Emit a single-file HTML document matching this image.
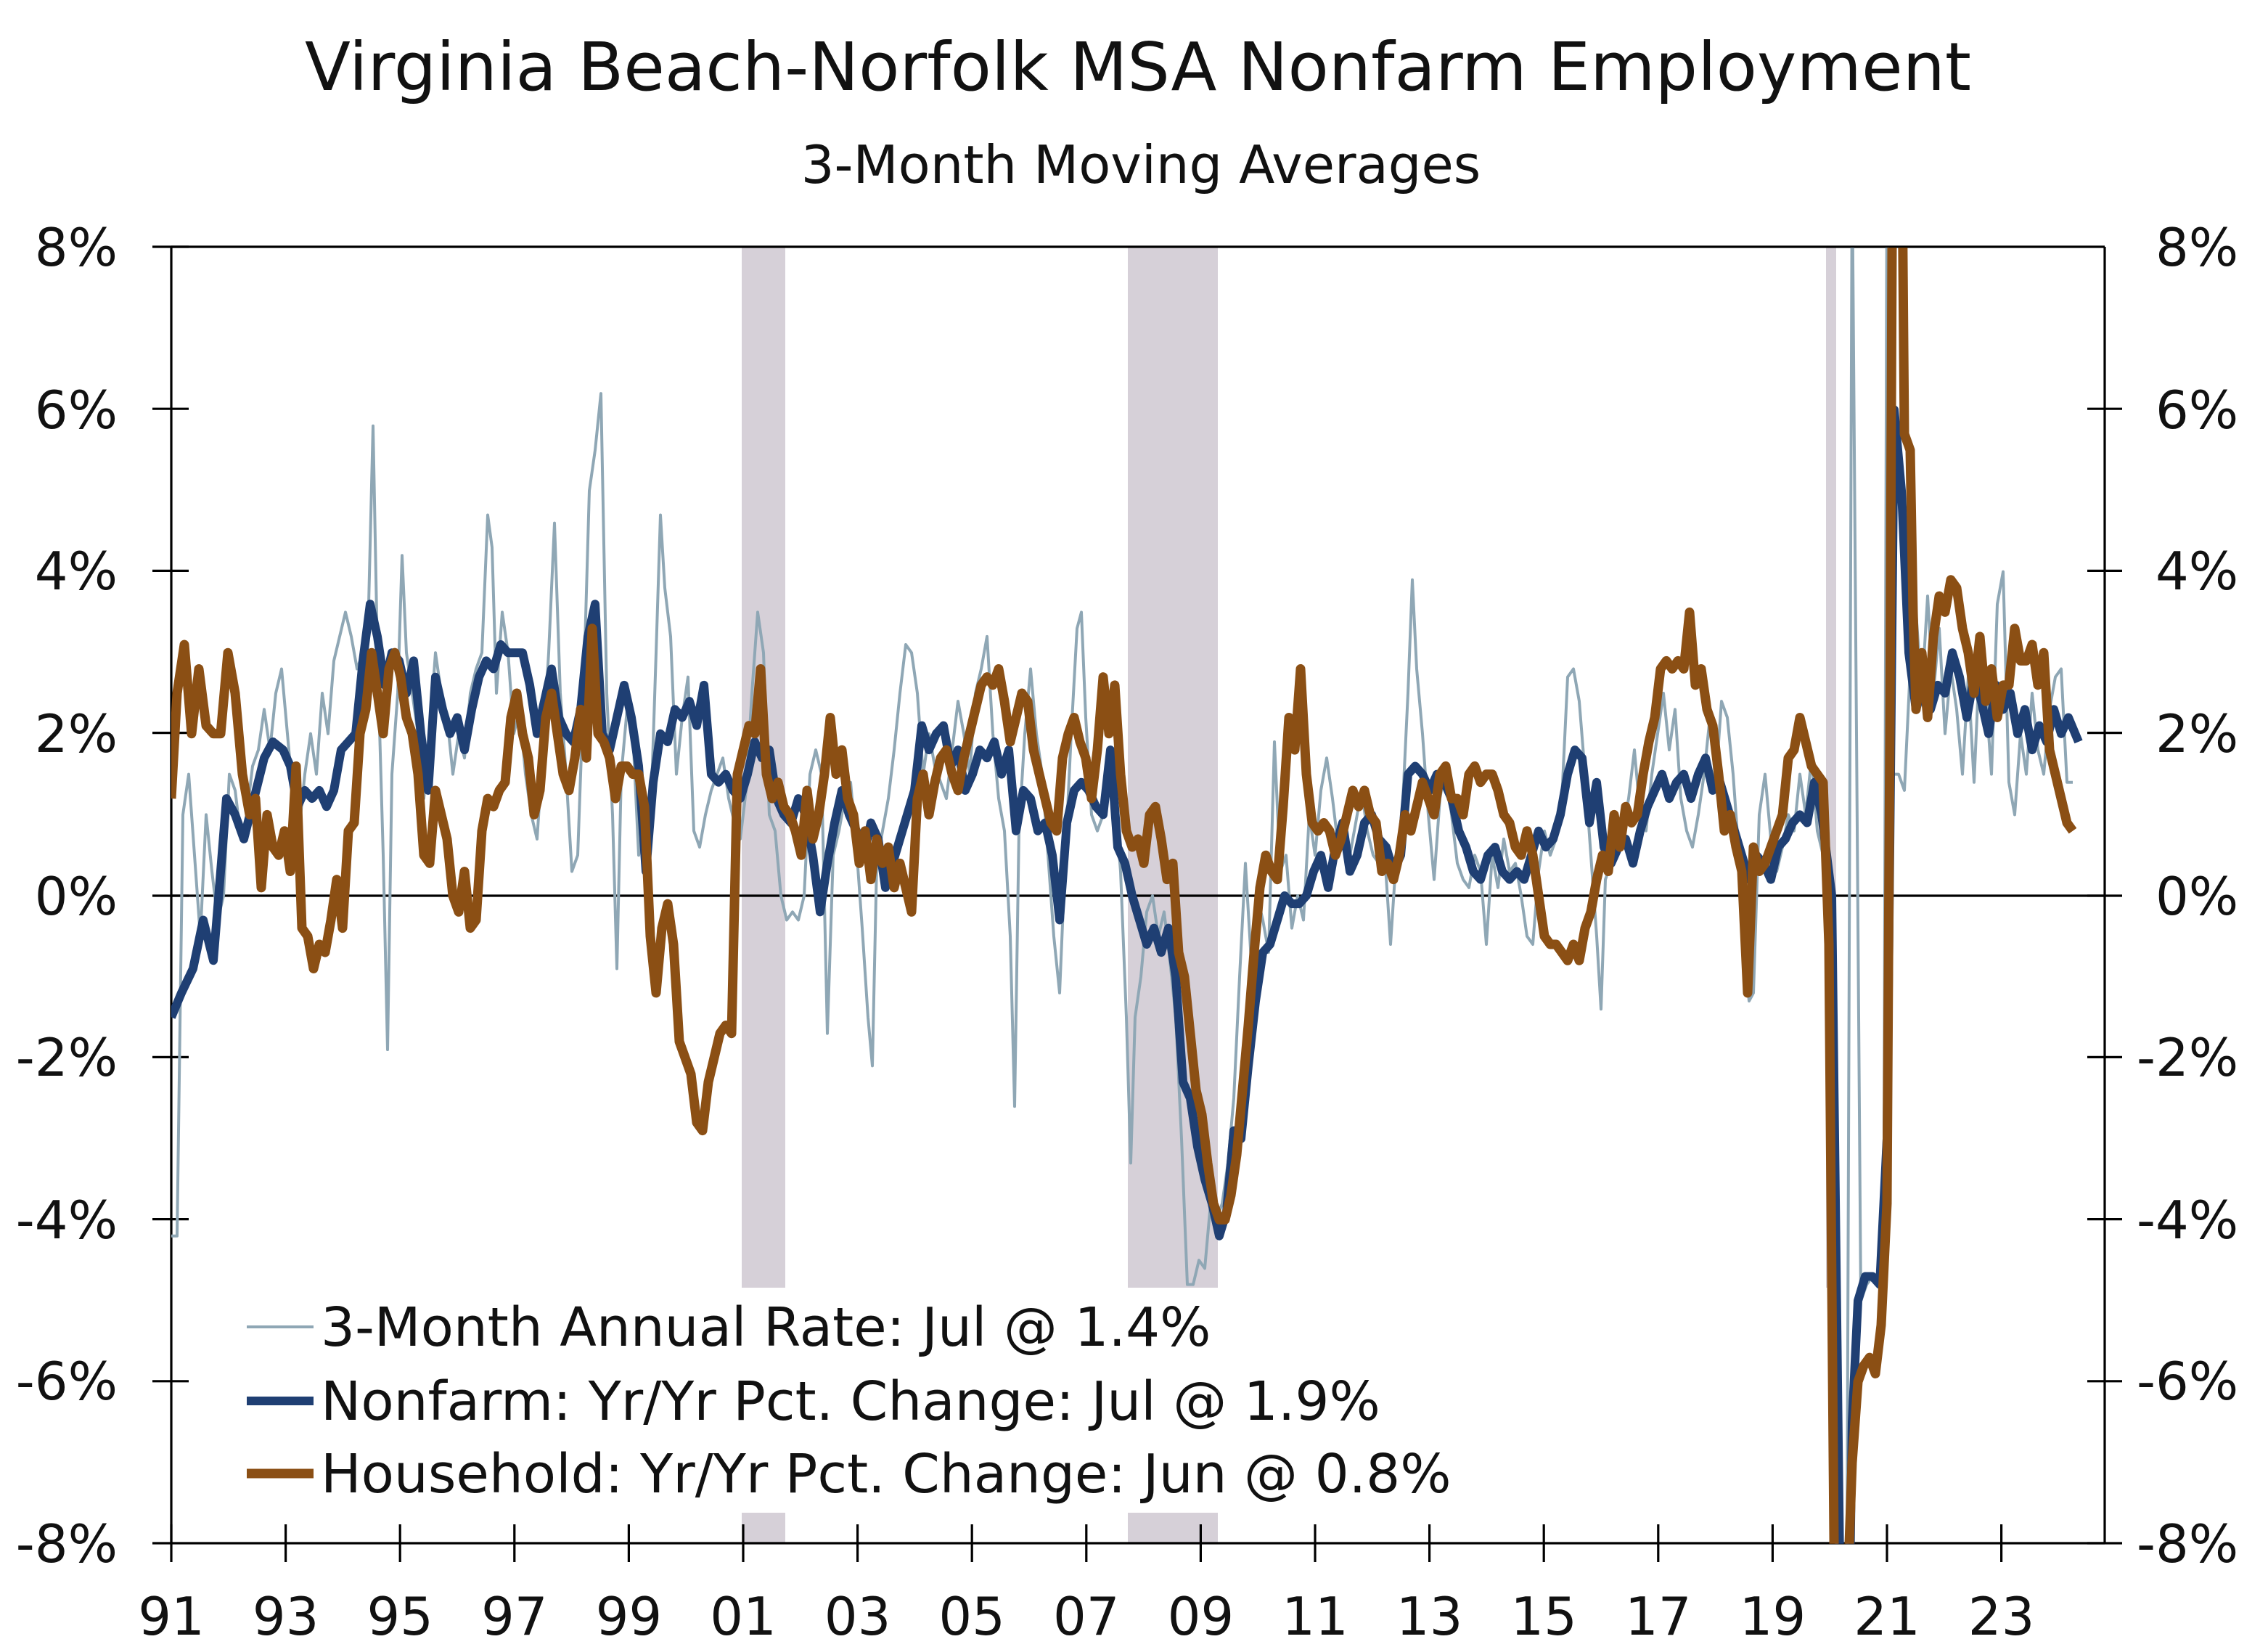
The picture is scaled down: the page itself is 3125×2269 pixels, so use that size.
<!DOCTYPE html>
<html><head><meta charset="utf-8"><style>
html,body{margin:0;padding:0;background:#fff;width:3125px;height:2269px;overflow:hidden;}
svg{display:block;}
text{font-family:"DejaVu Sans","Liberation Sans",sans-serif;fill:#111;}
</style></head><body>
<svg width="3125" height="2269" viewBox="0 0 1562.5 1134.5" xmlns="http://www.w3.org/2000/svg">
<defs><clipPath id="c"><rect x="118" y="-8" width="1332" height="16"/></clipPath></defs>
<text x="784" y="62" font-size="46" text-anchor="middle">Virginia Beach-Norfolk MSA Nonfarm Employment</text>
<text x="786" y="126" font-size="36" text-anchor="middle">3-Month Moving Averages</text>
<g fill="#d6d0d8">
<rect x="511" y="170" width="30" height="717"/><rect x="511" y="1042" width="30" height="21"/>
<rect x="777" y="170" width="62" height="717"/><rect x="777" y="1042" width="62" height="21"/>
<rect x="1258" y="170" width="7" height="717"/>
</g>
<g stroke="#000" stroke-width="1.6" fill="none">
<line x1="118" y1="170" x2="1450" y2="170"/>
<line x1="118" y1="170" x2="118" y2="1063"/>
<line x1="1450" y1="170" x2="1450" y2="1063"/>
<line x1="105" y1="1063" x2="1450" y2="1063"/>
<line x1="118" y1="617" x2="1450" y2="617"/>
<path d="M105 170H130M105 281.6H130M105 393.2H130M105 504.8H130M105 728.2H130M105 839.8H130M105 951.4H130M105 617H130"/>
<path d="M1438 281.6H1462M1438 393.2H1462M1438 504.8H1462M1438 617H1462M1438 728.2H1462M1438 839.8H1462M1438 951.4H1462M1438 1063H1462"/>
<path d="M118 1050V1076M196.8 1050V1076M275.6 1050V1076M354.4 1050V1076M433.2 1050V1076M512 1050V1076M590.8 1050V1076M669.6 1050V1076M748.4 1050V1076M827.2 1050V1076M906 1050V1076M984.8 1050V1076M1063.6 1050V1076M1142.4 1050V1076M1221.2 1050V1076M1300 1050V1076M1378.8 1050V1076"/>
</g>
<g font-size="36" text-anchor="end">
<text x="81" y="183">8%</text><text x="81" y="295">6%</text><text x="81" y="406">4%</text><text x="81" y="518">2%</text><text x="81" y="630">0%</text><text x="81" y="741">-2%</text><text x="81" y="853">-4%</text><text x="81" y="964">-6%</text><text x="81" y="1076">-8%</text>
</g>
<g font-size="36">
<text x="1485" y="183">8%</text><text x="1485" y="295">6%</text><text x="1485" y="406">4%</text><text x="1485" y="518">2%</text><text x="1485" y="630">0%</text><text x="1472" y="741">-2%</text><text x="1472" y="853">-4%</text><text x="1472" y="964">-6%</text><text x="1472" y="1076">-8%</text>
</g>
<g font-size="36" text-anchor="middle">
<text x="118" y="1126">91</text><text x="196.8" y="1126">93</text><text x="275.6" y="1126">95</text><text x="354.4" y="1126">97</text><text x="433.2" y="1126">99</text><text x="512" y="1126">01</text><text x="590.8" y="1126">03</text><text x="669.6" y="1126">05</text><text x="748.4" y="1126">07</text><text x="827.2" y="1126">09</text><text x="906" y="1126">11</text><text x="984.8" y="1126">13</text><text x="1063.6" y="1126">15</text><text x="1142.4" y="1126">17</text><text x="1221.2" y="1126">19</text><text x="1300" y="1126">21</text><text x="1378.8" y="1126">23</text>
</g>
<g transform="translate(0,617) scale(1,-55.8)" clip-path="url(#c)" fill="none" stroke-linejoin="round">
<polyline vector-effect="non-scaling-stroke" stroke="#8fa7b5" stroke-width="4" points="118,-4.2 122,-4.2 126,1.0 130,1.5 134,0.5 138,-0.5 142,1.0 146,0.3 150,-0.3 154,0.0 158,1.5 162,1.3 166,0.7 170,1.0 174,1.6 178,1.8 182,2.3 186,1.8 190,2.5 194,2.8 198,2.0 202,1.2 206,0.8 210,1.5 214,2.0 218,1.5 222,2.5 226,2.0 230,2.9 234,3.2 238,3.5 242,3.2 246,2.8 250,3.0 254,3.6 257,5.8 260,3.0 264,0.5 267,-1.9 270,1.5 274,2.5 277,4.2 280,3.0 284,2.5 288,2.0 292,1.2 296,2.0 300,3.0 304,2.5 308,2.2 312,1.5 316,2.0 320,1.7 324,2.5 328,2.8 332,3.0 336,4.7 339,4.3 342,2.5 346,3.5 350,3.0 354,2.0 358,2.3 362,1.5 366,1.0 370,0.7 374,1.8 378,3.0 382,4.6 386,2.5 390,1.5 394,0.3 398,0.5 402,2.5 406,5.0 410,5.5 414,6.2 418,2.5 422,1.0 425,-0.9 428,1.5 432,2.3 436,2.0 440,0.5 444,1.0 448,0.8 452,3.0 455,4.7 458,3.8 462,3.2 466,1.5 470,2.2 474,2.7 478,0.8 482,0.6 486,1.0 490,1.3 494,1.5 498,1.7 502,1.2 506,0.9 510,0.7 514,1.3 518,2.5 522,3.5 526,3.0 530,1.0 534,0.8 538,0.0 542,-0.3 546,-0.2 550,-0.3 554,0.0 558,1.5 562,1.8 566,1.5 570,-1.7 574,0.5 578,0.8 582,1.2 586,1.4 590,0.6 594,-0.4 598,-1.5 601,-2.1 604,0.4 608,0.8 612,1.2 616,1.8 620,2.5 624,3.1 628,3.0 632,2.5 636,1.5 640,2.0 644,1.6 648,1.4 652,1.2 656,1.8 660,2.4 664,2.0 668,1.5 672,2.5 676,2.8 680,3.2 684,2.0 688,1.2 692,0.8 696,-0.5 699,-2.6 702,0.8 706,2.0 710,2.8 714,2.0 718,1.5 722,0.5 726,-0.5 730,-1.2 734,0.5 738,2.0 742,3.3 745,3.5 748,2.2 752,1.0 756,0.8 760,1.0 764,1.8 768,1.2 772,0.3 776,-1.5 779,-3.3 782,-1.5 786,-1.0 790,-0.2 794,0.0 798,-0.5 802,-0.2 806,-0.8 810,-1.5 814,-3.0 818,-4.8 822,-4.8 826,-4.5 830,-4.6 834,-3.8 838,-4.0 842,-3.8 846,-3.3 850,-2.5 854,-1.0 858,0.4 862,-0.8 866,0.0 870,-0.3 874,-0.7 878,1.9 882,0.3 886,0.5 890,-0.4 894,0.0 898,-0.3 902,1.0 906,0.5 910,1.3 914,1.7 918,1.2 922,0.6 926,0.7 930,0.5 934,0.9 938,1.3 942,0.8 946,0.5 950,0.4 954,0.5 958,-0.6 962,0.5 966,1.0 970,2.5 973,3.9 976,2.8 980,2.0 984,1.0 988,0.2 992,1.2 996,1.6 1000,1.0 1004,0.4 1008,0.2 1012,0.1 1016,0.5 1020,0.3 1024,-0.6 1028,0.5 1032,0.1 1036,0.7 1040,0.3 1044,0.4 1048,0.0 1052,-0.5 1056,-0.6 1060,0.3 1064,0.8 1068,0.5 1072,0.7 1076,1.2 1080,2.7 1084,2.8 1088,2.4 1092,1.5 1096,0.5 1100,-0.5 1103,-1.4 1106,0.2 1110,0.4 1114,0.6 1118,0.8 1122,1.2 1126,1.8 1130,1.0 1134,0.8 1138,1.5 1142,2.0 1146,2.5 1150,1.8 1154,2.3 1158,1.2 1162,0.8 1166,0.6 1170,1.0 1174,1.5 1178,2.2 1182,1.4 1186,2.4 1190,2.2 1194,1.5 1198,0.5 1202,-0.8 1205,-1.3 1208,-1.2 1212,1.0 1216,1.5 1220,0.7 1224,0.3 1228,0.6 1232,1.0 1236,0.8 1240,1.5 1244,1.0 1248,1.7 1252,0.8 1256,0.5 1260,-1.0 1264,-5 1270,-20 1276,9 1282,-5.0 1286,-4.8 1290,-4.7 1294,-4.8 1298,-3.0 1300,9 1304,1.5 1308,1.5 1312,1.3 1316,2.8 1320,3.5 1324,2.5 1328,3.7 1332,2.5 1336,3.3 1340,2.0 1344,2.8 1348,2.3 1352,1.5 1356,2.7 1360,1.4 1364,3.0 1368,2.5 1372,1.5 1376,3.6 1380,4.0 1384,1.4 1388,1.0 1392,2.0 1396,1.5 1400,2.5 1404,1.8 1408,1.5 1412,2.3 1416,2.7 1420,2.8 1424,1.4 1428,1.4"/>
<polyline vector-effect="non-scaling-stroke" stroke="#1f3f73" stroke-width="12" points="118,-1.5 125,-1.2 133,-0.9 140,-0.3 147,-0.8 152,0.3 156,1.2 162,1.0 168,0.7 175,1.2 182,1.7 188,1.9 195,1.8 200,1.6 205,1.1 210,1.3 215,1.2 220,1.3 225,1.1 230,1.3 235,1.8 240,1.9 245,2.0 250,2.9 255,3.6 260,3.2 265,2.6 270,3.0 275,2.9 280,2.5 285,2.9 290,2.0 295,1.3 300,2.7 305,2.3 310,2.0 315,2.2 320,1.8 325,2.3 330,2.7 335,2.9 340,2.8 345,3.1 350,3.0 355,3.0 360,3.0 365,2.6 370,2.0 375,2.4 380,2.8 385,2.2 390,2.0 395,1.9 400,2.3 405,3.2 410,3.6 415,2.0 420,1.8 425,2.2 430,2.6 435,2.2 440,1.6 445,0.3 450,1.4 455,2.0 460,1.9 465,2.3 470,2.2 475,2.4 480,2.1 485,2.6 490,1.5 495,1.4 500,1.5 505,1.3 510,1.2 515,1.5 520,1.9 525,1.7 530,1.8 535,1.2 540,1.0 545,0.9 550,1.2 555,1.0 560,0.5 565,-0.2 570,0.4 575,0.9 580,1.3 585,1.0 590,0.8 595,0.5 600,0.9 605,0.7 610,0.1 615,0.4 620,0.7 625,1.0 630,1.3 635,2.1 640,1.8 645,2.0 650,2.1 655,1.6 660,1.8 665,1.3 670,1.5 675,1.8 680,1.7 685,1.9 690,1.5 695,1.8 700,0.8 705,1.3 710,1.2 715,0.8 720,0.9 725,0.5 730,-0.3 735,0.9 740,1.3 745,1.4 750,1.3 755,1.1 760,1.0 765,1.8 770,0.6 775,0.4 780,0.0 785,-0.3 790,-0.6 795,-0.4 800,-0.7 805,-0.4 810,-1.0 815,-2.3 820,-2.5 825,-3.1 830,-3.5 835,-3.8 840,-4.2 845,-3.9 850,-2.9 855,-3.0 860,-2.1 865,-1.3 870,-0.7 875,-0.6 880,-0.3 885,0.0 890,-0.1 895,-0.1 900,0.0 905,0.3 910,0.5 915,0.1 920,0.6 925,0.9 930,0.3 935,0.5 940,0.9 945,1.0 950,0.7 955,0.6 960,0.3 965,0.5 970,1.5 975,1.6 980,1.5 985,1.3 990,1.5 995,1.4 1000,1.2 1005,0.8 1010,0.6 1015,0.3 1020,0.2 1025,0.5 1030,0.6 1035,0.3 1040,0.2 1045,0.3 1050,0.2 1055,0.5 1060,0.8 1065,0.6 1070,0.7 1075,1.0 1080,1.5 1085,1.8 1090,1.7 1095,0.9 1100,1.4 1105,0.6 1110,0.4 1115,0.6 1120,0.7 1125,0.4 1130,0.8 1135,1.1 1140,1.3 1145,1.5 1150,1.2 1155,1.4 1160,1.5 1165,1.2 1170,1.5 1175,1.7 1180,1.3 1185,1.4 1190,1.1 1195,0.8 1200,0.5 1205,0.2 1210,0.5 1215,0.4 1220,0.2 1225,0.6 1230,0.7 1235,0.9 1240,1.0 1245,0.9 1250,1.4 1255,1.0 1262,0.0 1268,-9 1274,-9 1276,-6.5 1280,-5.0 1285,-4.7 1290,-4.7 1295,-4.8 1300,-3.0 1305,6.0 1310,5.0 1315,3.0 1320,2.3 1325,2.6 1330,2.3 1335,2.6 1340,2.5 1345,3.0 1350,2.7 1355,2.2 1360,2.7 1365,2.4 1370,2.0 1375,2.6 1380,2.3 1385,2.5 1390,2.0 1395,2.3 1400,1.8 1405,2.1 1410,1.9 1415,2.3 1420,2.0 1425,2.2 1432,1.9"/>
<polyline vector-effect="non-scaling-stroke" stroke="#8b4f14" stroke-width="13" points="118,1.2 122,2.5 127,3.1 132,2.0 137,2.8 142,2.1 147,2.0 152,2.0 157,3.0 162,2.5 167,1.5 172,1.0 176,1.2 180,0.1 184,1.0 188,0.6 192,0.5 196,0.8 200,0.3 204,1.6 208,-0.4 212,-0.5 216,-0.9 220,-0.6 224,-0.7 228,-0.3 232,0.2 236,-0.4 240,0.8 244,0.9 248,2.0 252,2.3 256,3.0 260,2.5 264,2.0 268,2.8 272,3.0 276,2.7 280,2.2 284,2.0 288,1.5 292,0.5 296,0.4 300,1.3 304,1.0 308,0.7 312,0.0 316,-0.2 320,0.3 324,-0.4 328,-0.3 332,0.8 336,1.2 340,1.1 344,1.3 348,1.4 352,2.2 356,2.5 360,2.0 364,1.7 368,1.0 372,1.3 376,2.2 380,2.5 384,2.0 388,1.5 392,1.3 396,1.7 400,2.3 404,1.7 408,3.3 412,2.0 416,1.9 420,1.7 424,1.2 428,1.6 432,1.6 436,1.5 440,1.5 444,1.1 448,-0.5 452,-1.2 456,-0.4 460,-0.1 464,-0.6 468,-1.8 472,-2.0 476,-2.2 480,-2.8 484,-2.9 488,-2.3 492,-2.0 496,-1.7 500,-1.6 504,-1.7 508,1.5 512,1.8 516,2.1 520,2.0 524,2.8 528,1.5 532,1.2 536,1.4 540,1.1 544,1.0 548,0.8 552,0.5 556,1.3 560,0.7 564,1.0 568,1.5 572,2.2 576,1.5 580,1.8 584,1.2 588,1.0 592,0.4 596,0.8 600,0.2 604,0.7 608,0.4 612,0.6 616,0.1 620,0.4 624,0.1 628,-0.2 632,1.2 636,1.5 640,1.0 644,1.4 648,1.7 652,1.8 656,1.5 660,1.3 664,1.7 668,2.0 672,2.3 676,2.6 680,2.7 684,2.6 688,2.8 692,2.4 696,1.9 700,2.2 704,2.5 708,2.4 712,1.8 716,1.5 720,1.2 724,0.9 728,0.8 732,1.7 736,2.0 740,2.2 744,1.9 748,1.7 752,1.2 756,1.8 760,2.7 764,2.0 768,2.6 772,1.5 776,0.8 780,0.6 784,0.7 788,0.4 792,1.0 796,1.1 800,0.7 804,0.2 808,0.4 812,-0.7 816,-1.0 820,-1.7 824,-2.4 828,-2.7 832,-3.3 836,-3.8 840,-4.0 844,-4.0 848,-3.7 852,-3.2 856,-2.4 860,-1.6 864,-0.7 868,0.1 872,0.5 876,0.3 880,0.2 884,1.1 888,2.2 892,1.8 896,2.8 900,1.5 904,0.9 908,0.8 912,0.9 916,0.8 920,0.5 924,0.7 928,1.0 932,1.3 936,1.1 940,1.3 944,1.0 948,0.9 952,0.3 956,0.4 960,0.2 964,0.5 968,1.0 972,0.8 976,1.1 980,1.4 984,1.2 988,1.0 992,1.5 996,1.6 1000,1.2 1004,1.2 1008,1.0 1012,1.5 1016,1.6 1020,1.4 1024,1.5 1028,1.5 1032,1.3 1036,1.0 1040,0.9 1044,0.6 1048,0.5 1052,0.8 1056,0.5 1060,0.0 1064,-0.5 1068,-0.6 1072,-0.6 1076,-0.7 1080,-0.8 1084,-0.6 1088,-0.8 1092,-0.4 1096,-0.2 1100,0.2 1104,0.5 1108,0.3 1112,1.0 1116,0.6 1120,1.1 1124,0.9 1128,1.0 1132,1.5 1136,1.9 1140,2.2 1144,2.8 1148,2.9 1152,2.8 1156,2.9 1160,2.8 1164,3.5 1168,2.6 1172,2.8 1176,2.3 1180,2.1 1184,1.5 1188,0.8 1192,1.0 1196,0.6 1200,0.3 1204,-1.2 1208,0.6 1212,0.3 1216,0.4 1220,0.6 1224,0.8 1228,1.0 1232,1.7 1236,1.8 1240,2.2 1244,1.9 1248,1.6 1252,1.5 1256,1.4 1260,-0.6 1264,-9 1272,-9 1276,-7.0 1280,-6.0 1284,-5.8 1288,-5.7 1292,-5.9 1296,-5.3 1300,-3.8 1302,2 1304,10 1310,10 1312,5.7 1316,5.5 1318,3.5 1320,2.3 1324,3.0 1328,2.2 1332,3.2 1336,3.7 1340,3.5 1344,3.9 1348,3.8 1352,3.3 1356,3.0 1360,2.5 1364,3.2 1368,2.4 1372,2.8 1376,2.2 1380,2.6 1384,2.6 1388,3.3 1392,2.9 1396,2.9 1400,3.1 1404,2.6 1408,3.0 1412,1.8 1416,1.5 1420,1.2 1424,0.9 1428,0.8"/>
</g>
<line x1="170" y1="914" x2="216" y2="914" stroke="#8fa7b5" stroke-width="2"/>
<line x1="170" y1="965" x2="216" y2="965" stroke="#1f3f73" stroke-width="6"/>
<line x1="170" y1="1015" x2="216" y2="1015" stroke="#8b4f14" stroke-width="6.5"/>
<g font-size="37">
<text x="221" y="927">3-Month Annual Rate: Jul @ 1.4%</text>
<text x="221" y="978">Nonfarm: Yr/Yr Pct. Change: Jul @ 1.9%</text>
<text x="221" y="1028">Household: Yr/Yr Pct. Change: Jun @ 0.8%</text>
</g>
</svg>
</body></html>
